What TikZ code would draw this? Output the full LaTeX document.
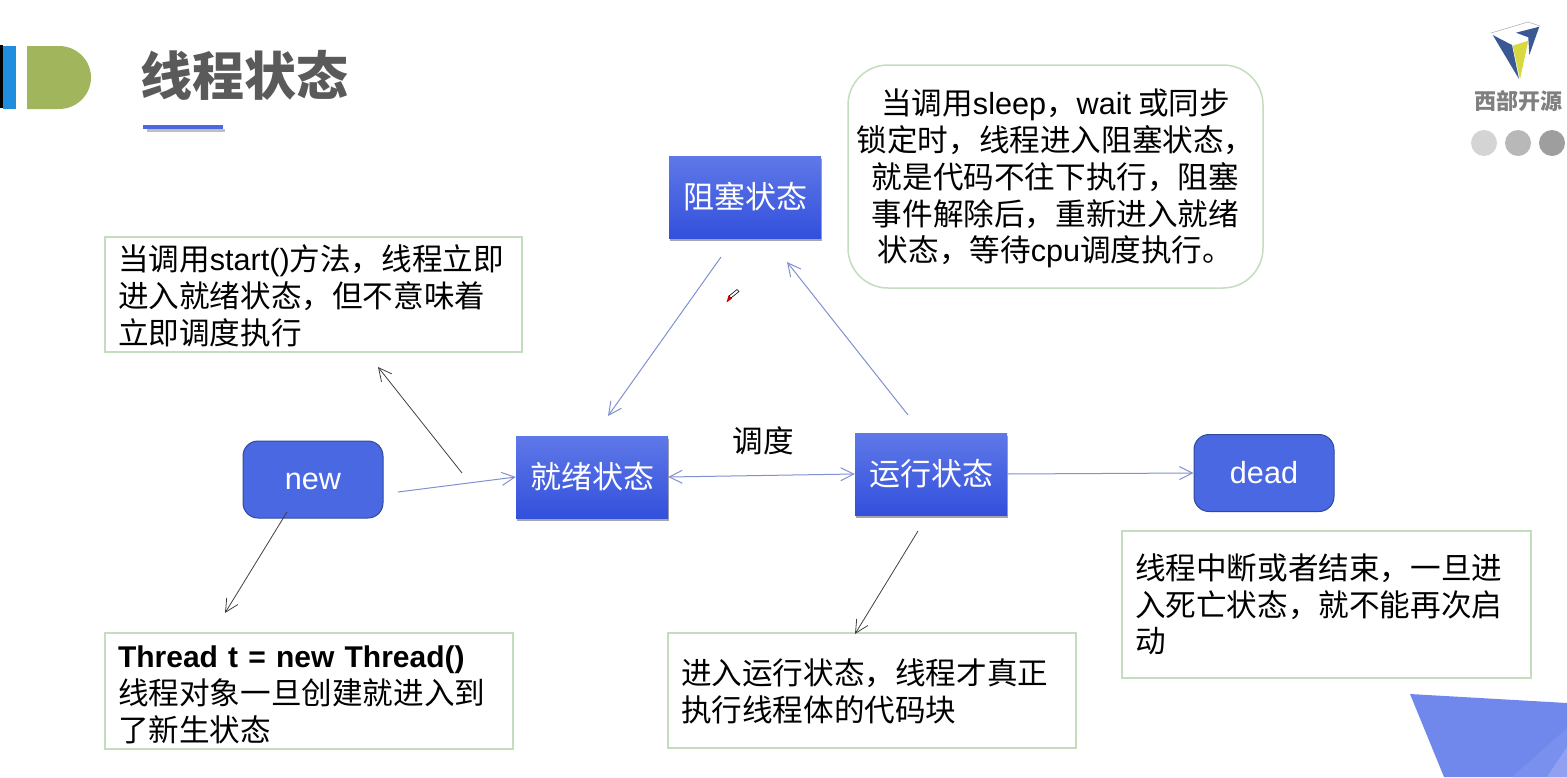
\documentclass[tikz,border=0pt]{standalone}
\usepackage{fontspec}
\setmainfont{Noto Sans CJK SC}
\newfontfamily\lat{Liberation Sans}
\usetikzlibrary{arrows.meta,shadows}
\definecolor{boxtop}{HTML}{5F78E8}
\definecolor{boxbot}{HTML}{3350DC}
\definecolor{stateblue}{HTML}{4A68E2}
\definecolor{stateedge}{HTML}{2F4A9C}
\definecolor{notegreen}{HTML}{C4DDBE}
\definecolor{linkblue}{HTML}{8090D0}
\definecolor{titlegray}{HTML}{5A5A5A}
\definecolor{tabblue}{HTML}{208EDC}
\definecolor{tabgreen}{HTML}{A0B55C}
\definecolor{logoblue}{HTML}{3A5894}
\definecolor{logoyellow}{HTML}{D8D840}
\definecolor{cornerA}{HTML}{7088EC}
\definecolor{cornerB}{HTML}{7A90EE}
\definecolor{cornerC}{HTML}{92A0F2}
\newcommand{\nudge}[1]{\rule{0pt}{#1pt}}
\tikzset{
  txt/.style={font=\fontsize{30.6}{36.8}\selectfont,align=left},
  statebox/.style={font=\fontsize{31}{36}\selectfont,align=center,text=white,top color=boxtop,bottom color=boxbot,
    minimum width=152pt,minimum height=82pt,inner sep=0pt,
    drop shadow={shadow xshift=1pt,shadow yshift=-3pt,opacity=.35,fill=black}},
  endbox/.style={txt,align=center,text=white,fill=stateblue,draw=stateedge,line width=1pt,
    rounded corners=15pt,minimum width=140pt,minimum height=77pt,inner sep=0pt},
  notebox/.style={txt,draw=notegreen,line width=1.5pt,fill=white,inner xsep=13pt,inner ysep=0pt,
    text width=#1},
  bluelink/.style={draw=linkblue,line width=1pt,-{Straight Barb[length=13pt,width=13pt]}},
  blacklink/.style={draw=black!75,line width=.8pt,-{Straight Barb[length=13pt,width=13pt]}},
}
\begin{document}
\begin{tikzpicture}[x=1pt,y=-1pt]
  \useasboundingbox (0,0) rectangle (1567,777);
  % header
  \fill[black] (0,45) rectangle (3,108);
  \fill[tabblue] (3,46) rectangle (16,109);
  \fill[tabgreen] (27,46) -- (59,46) arc (-90:90:32 and 31.5) -- (27,109) -- cycle;
  \node[font=\fontsize{52}{52}\selectfont\bfseries,text=titlegray,inner sep=0pt] (title) at (244,75) {线程状态};
  \fill[black!25] (147,129) rectangle (225,132);
  \fill[stateblue] (143,125) rectangle (223,128.5);
  % logo
  \draw[black!30,line width=.6pt] (1491,33) -- (1528,22) -- (1540,26);
  \fill[logoblue] (1492.7,35) -- (1512,45) -- (1519,79) -- cycle;
  \fill[logoyellow] (1512.7,45.7) -- (1528.3,40.7) -- (1520,79.3) -- cycle;
  \fill[logoblue] (1516,32.7) -- (1539.3,26.7) -- (1529.3,55) -- (1528.3,37.3) -- cycle;
  \node[font=\fontsize{22}{22}\selectfont\bfseries,text=black!50,inner sep=0pt] (brand) at (1518,101) {西部开源};
  \fill[black!17] (1484,143) circle (13);
  \fill[black!28] (1518,143) circle (13);
  \fill[black!38] (1552,143) circle (13);
  % corner
  \fill[cornerA] (1410,694) -- (1567,703) -- (1567,777) -- (1444,777) -- cycle;
  \fill[cornerB] (1567,728) -- (1567,777) -- (1512,777) -- cycle;
  \fill[cornerC] (1567,747) -- (1567,777) -- (1547,777) -- cycle;
  % states
  \node[statebox] (block) at (745,197) {阻塞状态};
  \node[statebox] (ready) at (592,477) {就绪状态};
  \node[statebox] (run) at (931,474) {运行状态};
  \node[endbox] (new) at (313,479.5) {\raisebox{-9.5pt}[0pt][0pt]{\lat new}};
  \node[endbox] (dead) at (1264,473) {\lat dead};
  % notes
  \node[notebox=391pt,minimum height=115pt] (startnote) at (313.5,294.5)
    {\nudge{29}当调用{\lat start()}方法，线程立即\\进入就绪状态，但不意味着\\立即调度执行};
  \node[notebox=382pt,minimum height=116pt] (newnote) at (309,691)
    {\nudge{29}{\fontsize{30}{36.8}\selectfont\lat\bfseries Thread t = new Thread()}\\线程对象一旦创建就进入到\\了新生状态};
  \node[notebox=382pt,minimum height=115pt] (runnote) at (872,690.5)
    {\nudge{27}进入运行状态，线程才真正\\执行线程体的代码块};
  \node[notebox=383pt,minimum height=147pt] (deadnote) at (1326.5,604.5)
    {线程中断或者结束，一旦进\\入死亡状态，就不能再次启\\动};
  \node[txt,align=center,draw=notegreen,line width=1.5pt,fill=white,rounded corners=40pt,
    minimum width=415pt,minimum height=223pt,inner sep=0pt] (blocknote) at (1055.5,176.5)
    {\nudge{30}当调用{\lat sleep}，{\lat wait} 或同步\\锁定时，线程进入阻塞状态，\\就是代码不往下执行，阻塞\\事件解除后，重新进入就绪\\状态，等待{\lat cpu}调度执行。};
  \node[txt,inner sep=0pt] (sched) at (763,441) {调度};
  % free ends
  \coordinate (a1) at (721,257);
  \coordinate (a2) at (608,416);
  \coordinate (b1) at (908,415);
  \coordinate (b2) at (787,262);
  \coordinate (c1) at (398,492);
  \coordinate (d1) at (462,473);
  \coordinate (d2) at (378,367);
  \coordinate (e1) at (287,512);
  \coordinate (e2) at (225,613);
  \coordinate (f1) at (918,531);
  \coordinate (f2) at (855,634);
  % links
  \draw[bluelink] (a1) -- (a2);
  \draw[bluelink] (b1) -- (b2);
  \draw[bluelink] (c1) -- (ready.west);
  \draw[bluelink,{Straight Barb[length=13pt,width=13pt]}-{Straight Barb[length=13pt,width=13pt]}] (ready.east) -- (run.west);
  \draw[bluelink] (run.east) -- (dead.west);
  \draw[blacklink] (d1) -- (d2);
  \draw[blacklink] (e1) -- (e2);
  \draw[blacklink] (f1) -- (f2);
  % cursor
  \draw[black,line width=.6pt,fill=white] (729,296) -- (737,289.5) -- (739,291.5) -- (731,298) -- cycle;
  \fill[red!80!black] (726.5,302.5) -- (728.5,295.5) -- (732,298.5) -- cycle;
\end{tikzpicture}
\end{document}
